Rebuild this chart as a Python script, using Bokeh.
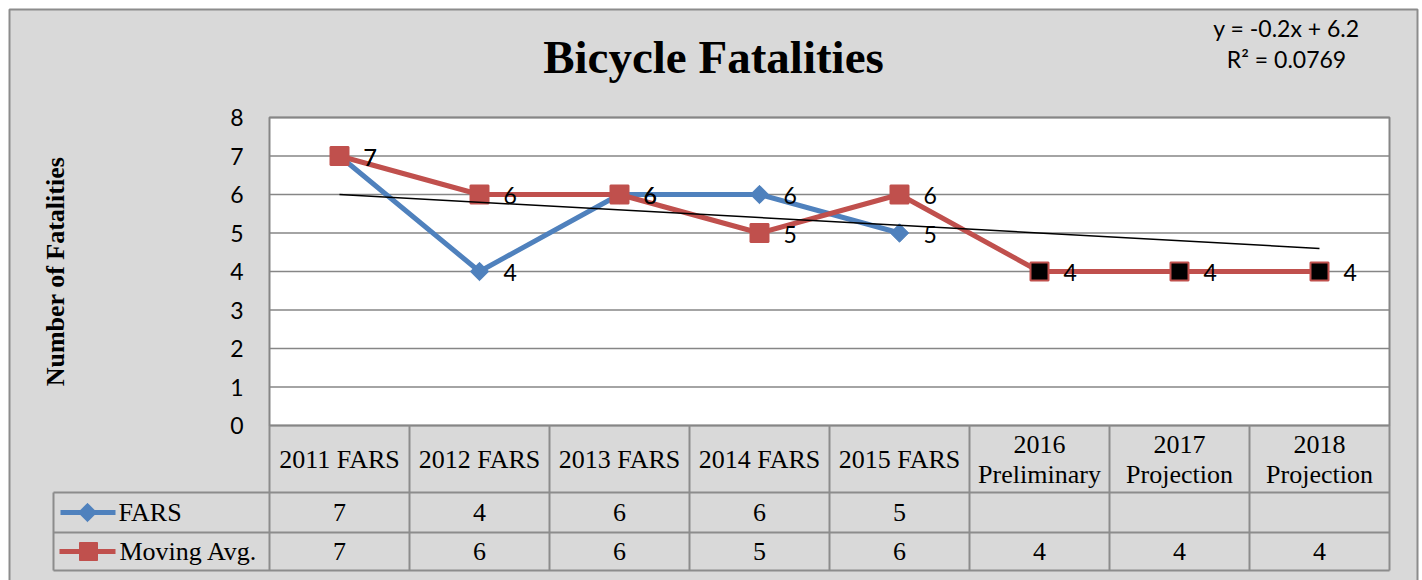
import numpy as np
from bokeh.plotting import figure
from bokeh.models import Range1d, FixedTicker, LinearAxis
from bokeh.core.properties import value
from bokeh.embed import file_html
from bokeh.resources import INLINE

# ---------------- data ----------------
categories = ["2011 FARS", "2012 FARS", "2013 FARS", "2014 FARS", "2015 FARS",
              "2016\nPreliminary", "2017\nProjection", "2018\nProjection"]
fars = [7, 4, 6, 6, 5]
moving_avg = [7, 6, 6, 5, 6, 4, 4, 4]
n_actual = 5          # first five moving-average points are actual, the rest preliminary/projection
y_ticks = [0, 1, 2, 3, 4, 5, 6, 7, 8]
title_text = "Bicycle Fatalities"
yaxis_title = "Number of Fatalities"
series_names = ["FARS", "Moving Avg."]

# ---------------- styles ----------------
BLUE = "#4F81BD"
RED = "#C0504D"
BG = "#D9D9D9"
GRID = "#868686"
TBL = "#8c8c8c"
SANS = "Lato"
SERIF = "Liberation Serif"

W, H = 1422, 580
PLOT_L, PLOT_T, PLOT_B = 269, 117, 425      # plot-area edges in page pixels
PXU = 140.0                                  # pixels per category
PYU = (PLOT_B - PLOT_T) / (y_ticks[-1] - y_ticks[0])


def px(page_x):
    return 0.5 + (page_x - PLOT_L) / PXU


def py(page_y):
    return y_ticks[0] + (PLOT_B - page_y) / PYU


n = len(categories)
xs_all = np.arange(1, n + 1)
xs_fars = np.arange(1, len(fars) + 1)

# linear trend of FARS (Excel trendline, forecast to last category)
slope, intercept = np.polyfit(xs_fars, fars, 1)
pred = np.polyval([slope, intercept], xs_fars)
ss_res = np.sum((np.array(fars) - pred) ** 2)
ss_tot = np.sum((np.array(fars) - np.mean(fars)) ** 2)
r2 = 1 - ss_res / ss_tot
sign = "+" if intercept >= 0 else "-"
eq_text = f"y = {slope:.1f}x {sign} {abs(intercept):.1f}"
r2_text = f"R\u00b2 = {r2:.4f}"
trend_x = np.array([xs_all[0], xs_all[-1]])
trend_y = np.polyval([slope, intercept], trend_x)

p = figure(width=W, height=H, x_range=Range1d(px(0), px(W)), y_range=Range1d(py(H), py(0)),
           min_border=0, x_axis_location=None, y_axis_location=None,
           toolbar_location=None, output_backend="svg")
p.background_fill_color = "white"
p.border_fill_color = "white"
p.outline_line_color = None
p.grid.visible = False

# chart box
p.quad(left=[px(9)], right=[px(1417)], top=[py(9)], bottom=[py(H + 20)],
       fill_color=BG, line_color=TBL, line_width=2)
# plot area
x_lo, x_hi = 0.5, n + 0.5
p.quad(left=[x_lo], right=[x_hi], top=[y_ticks[-1]], bottom=[y_ticks[0]],
       fill_color="white", line_color=None)
p.segment(x0=[x_lo] * len(y_ticks), x1=[x_hi] * len(y_ticks), y0=y_ticks, y1=y_ticks,
          line_color=GRID, line_width=1.5)
p.quad(left=[x_lo], right=[x_hi], top=[y_ticks[-1]], bottom=[y_ticks[0]],
       fill_color=None, line_color=GRID, line_width=2)

# y axis drawn at the plot-area edge
yaxis = LinearAxis(fixed_location=x_lo, ticker=FixedTicker(ticks=y_ticks),
                   bounds=(y_ticks[0], y_ticks[-1]))
yaxis.axis_line_color = None
yaxis.major_tick_line_color = None
yaxis.minor_tick_line_color = None
yaxis.major_tick_out = 0
yaxis.major_tick_in = 0
yaxis.major_label_text_font = SANS
yaxis.major_label_text_font_size = "23px"
yaxis.major_label_text_color = "black"
yaxis.major_label_standoff = 26
yaxis.axis_label = yaxis_title
yaxis.axis_label_text_font = SERIF
yaxis.axis_label_text_font_style = "bold"
yaxis.axis_label_text_font_size = "26px"
yaxis.axis_label_text_color = "black"
yaxis.axis_label_standoff = 157
p.add_layout(yaxis, "left")

# ---------------- data table ----------------
ROW_T, ROW_1, ROW_2, ROW_B = 425, 492, 532, 570
LEG_L = 53
hy = [py(ROW_1), py(ROW_2), py(ROW_B)]
p.segment(x0=[px(LEG_L)] * 3, x1=[x_hi] * 3, y0=hy, y1=hy, line_color=TBL, line_width=2)
vx = [k + 0.5 for k in range(n + 1)] + [px(LEG_L)]
vy0 = [py(ROW_T)] * (n + 1) + [py(ROW_1)]
vy1 = [py(ROW_B)] * (n + 2)
p.segment(x0=vx, y0=vy0, x1=vx, y1=vy1, line_color=TBL, line_width=2)

p.text(xs_all, [py(459)] * n, text=categories, text_font=value(SERIF), text_font_size="26px",
       text_align="center", text_baseline="middle", text_color="black", text_line_height=1.05)
p.text(xs_fars, [py(512)] * len(fars), text=[str(v) for v in fars], text_font=value(SERIF),
       text_font_size="26px", text_align="center", text_baseline="middle", text_color="black")
p.text(xs_all, [py(551)] * n, text=[str(v) for v in moving_avg], text_font=value(SERIF),
       text_font_size="26px", text_align="center", text_baseline="middle", text_color="black")

# legend keys
p.segment(x0=[px(60)], y0=[py(512)], x1=[px(115)], y1=[py(512)], line_color=BLUE, line_width=5)
p.scatter([px(87)], [py(512)], marker="square", size=13, angle=np.pi / 4,
          fill_color=BLUE, line_color=BLUE)
p.segment(x0=[px(59)], y0=[py(551)], x1=[px(115)], y1=[py(551)], line_color=RED, line_width=5)
p.scatter([px(88)], [py(551)], marker="square", size=18, fill_color=RED, line_color=RED)
p.text([px(118), px(119)], [py(512), py(551)], text=series_names, text_font=value(SERIF),
       text_font_size="26px", text_align="left", text_baseline="middle", text_color="black")

# ---------------- series ----------------
p.line(xs_fars, fars, line_color=BLUE, line_width=5)
p.scatter(xs_fars, fars, marker="square", size=13, angle=np.pi / 4,
          fill_color=BLUE, line_color=BLUE, line_width=1)
p.line(xs_all, moving_avg, line_color=RED, line_width=5)
p.scatter(xs_all[:n_actual], moving_avg[:n_actual], marker="square", size=18,
          fill_color=RED, line_color=RED, line_width=2)
p.scatter(xs_all[n_actual:], moving_avg[n_actual:], marker="square", size=18,
          fill_color="black", line_color=RED, line_width=2)
p.line(trend_x, trend_y, line_color="black", line_width=1.5)

p.text(xs_fars, fars, text=[str(v) for v in fars], x_offset=24, y_offset=1,
       text_font=value(SANS), text_font_size="23px", text_baseline="middle", text_color="black")
p.text(xs_all, moving_avg, text=[str(v) for v in moving_avg], x_offset=24, y_offset=1,
       text_font=value(SANS), text_font_size="23px", text_baseline="middle", text_color="black")

# ---------------- titles ----------------
p.text([px(713)], [py(56)], text=[title_text], text_font=value(SERIF), text_font_style="bold",
       text_font_size="47px", text_align="center", text_baseline="alphabetic", text_color="black")
p.text([px(1286), px(1286)], [py(27), py(58)], text=[eq_text, r2_text], text_font=value(SANS),
       text_font_size="23px", text_align="center", text_baseline="alphabetic", text_color="black")

open("out.html", "w").write(file_html(p, INLINE))
